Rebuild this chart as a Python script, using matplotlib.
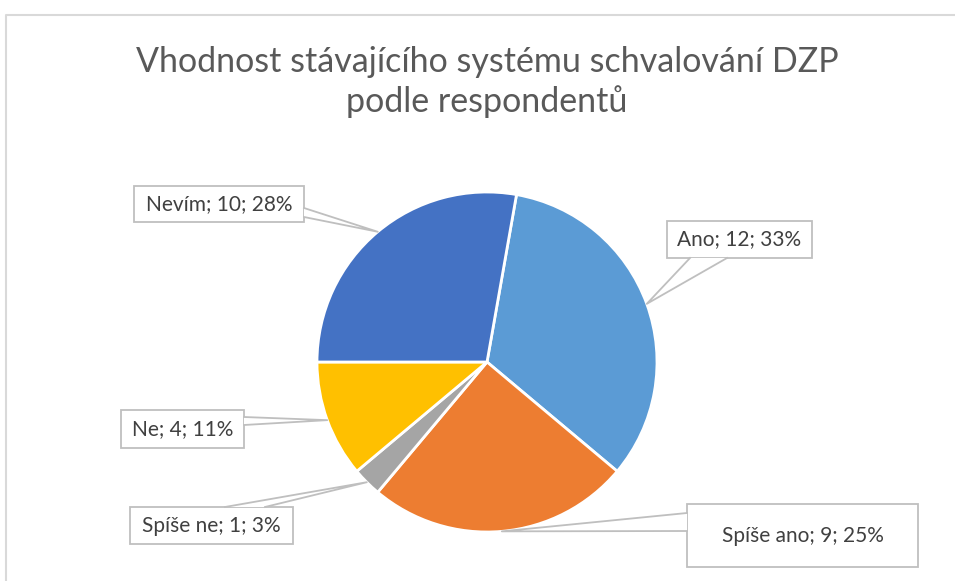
import numpy as np
import matplotlib
matplotlib.use('Agg')
from matplotlib import pyplot as plt
from matplotlib.patches import Polygon, Rectangle

labels = ['Ano', 'Spíše ano', 'Spíše ne', 'Ne', 'Nevím']
values = [12, 9, 1, 4, 10]
colors = ['#5B9BD5', '#ED7D31', '#A5A5A5', '#FFC000', '#4472C4']
title = 'Vhodnost stávajícího systému schvalování DZP\npodle respondentů'

W, H = 955, 581
fig = plt.figure(figsize=(W / 100, H / 100), dpi=100)
ax = fig.add_axes([0, 0, 1, 1])

plt.rcParams['font.family'] = ['Lato', 'DejaVu Sans']

# chart frame (top and left visible)
ax.plot([6, 6, W], [0, H - 15, H - 15], color='#D9D9D9', lw=1.5, zorder=0)

cx, cy, r = 487, H - 362, 170
wedges, _ = ax.pie(values, colors=colors, startangle=80, counterclock=False,
                   center=(cx, cy), radius=r, frame=True,
                   wedgeprops=dict(edgecolor='white', linewidth=2))
ax.set_xlim(0, W)
ax.set_ylim(0, H)
ax.set_aspect('equal')
ax.axis('off')

ax.text(487, H - 82, title, ha='center', va='center', fontsize=24.5,
        color='#595959', linespacing=1.25)

# callout boxes: (x0, y0_top, x1, y1_bottom) in pixel coords (y down), pointer base
boxes = [
    ((667, 221, 812, 258), ((690, 258), (727, 258))),
    ((687, 504, 918, 567), ((687, 513), (687, 531))),
    ((130, 507, 293, 544), ((225, 507), (265, 507))),
    ((121, 410, 244, 448), ((244, 417), (244, 425))),
    ((134, 186, 304, 222), ((304, 208), (304, 217))),
]

total = sum(values)
for w, lab, v, (box, base) in zip(wedges, labels, values, boxes):
    mid = np.deg2rad((w.theta1 + w.theta2) / 2)
    tip = (cx + r * np.cos(mid), cy + r * np.sin(mid))
    x0, y0, x1, y1 = box
    ax.add_patch(Rectangle((x0, H - y1), x1 - x0, y1 - y0, facecolor='white',
                           edgecolor='#BFBFBF', lw=1.3, zorder=5))
    b1 = (base[0][0], H - base[0][1])
    b2 = (base[1][0], H - base[1][1])
    ax.add_patch(Polygon([b1, tip, b2], closed=True, facecolor='white',
                         edgecolor='none', zorder=6))
    ax.plot([b1[0], tip[0], b2[0]], [b1[1], tip[1], b2[1]], color='#BFBFBF',
            lw=1.3, zorder=7)
    pct = round(100 * v / total)
    ax.text((x0 + x1) / 2, H - (y0 + y1) / 2, f'{lab}; {v}; {pct}%',
            ha='center', va='center', fontsize=15, color='#404040', zorder=8)

fig.savefig('out.png', dpi=100)
